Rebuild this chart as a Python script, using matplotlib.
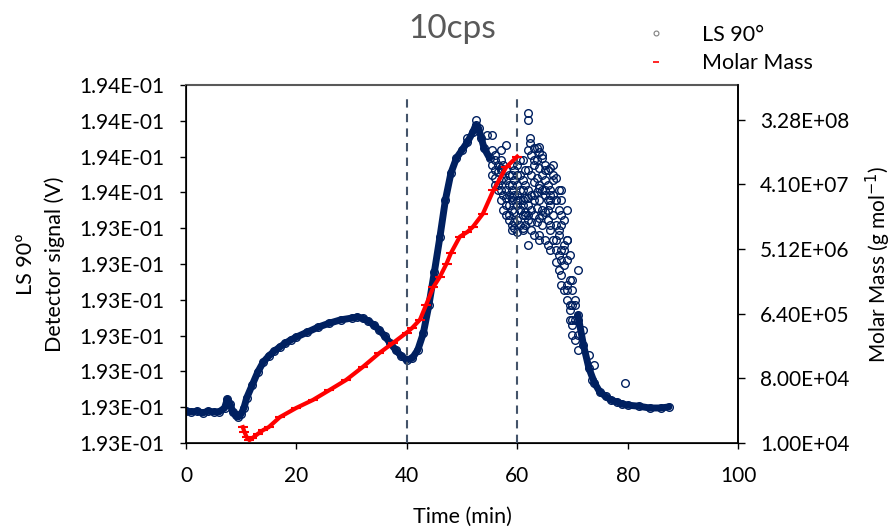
import numpy as np
import matplotlib
matplotlib.use("Agg")
import matplotlib.pyplot as plt
from matplotlib.lines import Line2D
from matplotlib.ticker import FixedLocator, FuncFormatter, NullLocator

plt.rcParams['font.family'] = ['Lato', 'DejaVu Sans']

# LS 90 detector signal, stored as microvolts above 0.19288 V
ls_time = [0, 1, 2, 3, 4, 5, 6, 7, 7.5, 8, 8.5, 9, 9.5, 10, 10.5, 11, 12, 13, 14, 15,
           16, 17, 18, 19, 20, 22, 24, 26, 28, 30, 31, 32, 33, 34, 35, 36, 37, 38, 39, 40,
           41, 42, 43, 44, 45, 46, 47, 48, 49, 50, 51, 52, 52.5, 53, 53.5, 54, 55, 56, 57, 58,
           59, 60, 61, 62, 63, 64, 65, 66, 67, 68, 69, 70, 71, 72, 73, 74, 75, 76, 77, 78,
           79, 80, 82, 84, 86, 87.5]
ls_uv = [89, 87, 89, 84, 89, 87, 87, 98, 123, 109, 87, 78, 73, 81, 98, 126, 162, 198, 226, 243,
         257, 268, 279, 288, 296, 310, 324, 335, 344, 349, 352, 349, 341, 330, 316, 299, 279, 260, 243, 232,
         237, 260, 307, 385, 478, 575, 679, 754, 796, 818, 841, 869, 888, 880, 852, 824, 796, 762, 735, 707,
         687, 679, 665, 684, 693, 712, 707, 693, 679, 637, 567, 455, 358, 274, 209, 168, 142, 131, 120, 115,
         109, 106, 103, 98, 98, 101]

# scattered LS readings around the main peak
scat_time = [52.5, 54.5, 56, 56.5, 57, 58, 58.5, 59, 59.5, 60, 60.5, 62, 62, 62.3, 62.3, 63.5, 64,
             61, 62, 62.5, 63, 64.5, 65, 65.5, 66, 66.5, 67, 67.5, 68, 68.5, 69, 69.5, 70, 70.5,
             71, 69, 68, 66.5, 72, 73, 74, 73.5, 79.5, 61, 63, 64, 57, 58, 59, 60, 61.5, 55.5,
             51, 60.5, 59, 62, 64.5, 66]
scat_uv = [902, 860, 790, 721, 768, 665, 637, 721, 617, 749, 790, 922, 902, 852, 838, 824, 827,
           707, 637, 617, 790, 804, 762, 651, 609, 735, 567, 595, 511, 539, 427, 385, 330, 399,
           483, 651, 707, 776, 316, 246, 218, 176, 168, 595, 581, 567, 818, 832, 776, 693, 637, 860,
           852, 651, 595, 553, 637, 679]

# dense cloud of LS readings between 55 and 71 min
cloud_time = [55.5, 55.5, 55.5, 56, 56, 56, 56.5, 56.5, 56.5, 57, 57, 57, 57,
              57.5, 57.5, 57.5, 57.5, 58, 58, 58, 58, 58.5, 58.5, 58.5, 58.5, 58.5,
              59, 59, 59, 59, 59, 59.5, 59.5, 59.5, 59.5, 59.5, 60, 60, 60, 60, 60,
              60.5, 60.5, 60.5, 60.5, 60.5, 61, 61, 61, 61, 61, 61.5, 61.5, 61.5, 61.5, 61.5,
              62, 62, 62, 62, 62, 62.5, 62.5, 62.5, 62.5, 62.5, 63, 63, 63, 63, 63,
              63.5, 63.5, 63.5, 63.5, 63.5, 64, 64, 64, 64, 64, 64, 64.5, 64.5, 64.5, 64.5, 64.5,
              65, 65, 65, 65, 65, 65.5, 65.5, 65.5, 65.5, 65.5, 66, 66, 66, 66, 66,
              66.5, 66.5, 66.5, 66.5, 67, 67, 67, 67, 67, 67.5, 67.5, 67.5, 67.5, 67.5,
              68, 68, 68, 68, 68, 68.5, 68.5, 68.5, 68.5, 69, 69, 69, 69,
              69.5, 69.5, 69.5, 69.5, 70, 70, 70, 70, 70.5, 70.5, 70.5, 71, 71, 71]
cloud_uv = [818, 776, 749, 804, 740, 721, 776, 707, 757, 762, 707, 679, 790,
            740, 693, 651, 776, 735, 684, 637, 762, 721, 665, 623, 749, 693,
            749, 707, 651, 609, 679, 735, 693, 645, 600, 762, 776, 721, 665, 623, 589,
            749, 707, 651, 609, 679, 790, 735, 679, 637, 600, 762, 721, 684, 645, 609,
            818, 762, 707, 665, 623, 804, 749, 693, 651, 595, 824, 776, 729, 679, 637,
            790, 740, 701, 656, 617, 813, 768, 721, 679, 628, 581, 796, 749, 707, 651, 609,
            776, 735, 693, 645, 567, 762, 721, 679, 623, 553, 768, 707, 665, 595, 539,
            749, 693, 637, 567, 740, 679, 609, 539, 506, 707, 651, 581, 525, 483,
            679, 609, 539, 469, 441, 623, 553, 497, 427, 567, 511, 441, 399,
            525, 455, 371, 344, 427, 385, 344, 302, 385, 344, 288, 344, 302, 260]

# molar mass (g/mol)
mm_time = [10.3, 10.6, 11.0, 11.5, 12, 13, 14, 15, 17, 20, 23, 26, 29, 32, 35, 37.5, 40,
           41, 42.4, 43.5, 44.8, 46, 47.2, 48, 49.6, 51, 52, 53.8, 55.7, 58, 60]
mm_val = [1.67e4, 1.43e4, 1.21e4, 1.10e4, 1.17e4, 1.34e4, 1.52e4, 1.67e4, 2.3e4, 3.1e4, 4.0e4,
          5.5e4, 7.6e4, 1.15e5, 1.8e5, 2.5e5, 3.5e5, 4.07e5, 5.3e5, 8.5e5, 1.5e6, 2.1e6, 3.2e6,
          4.5e6, 7.6e6, 8.9e6, 1.05e7, 1.6e7, 3.4e7, 7.1e7, 1.0e8]

cut_times = [40, 60]
x_ticks = [0, 20, 40, 60, 80, 100]
mm_ticks = [1e4, 8e4, 6.4e5, 5.12e6, 4.096e7, 3.2768e8]

navy = '#002060'
ls_base = 0.19288
t_arr = np.array(ls_time)
ls = ls_base + np.array(ls_uv) * 1e-6
ls_band = np.where((t_arr > 55) & (t_arr < 71), np.nan, ls)
ls_scat = ls_base + np.array(scat_uv) * 1e-6
ls_cloud = ls_base + np.array(cloud_uv) * 1e-6

fig = plt.figure(figsize=(8.94, 5.3), dpi=100)
ax = fig.add_axes([0.208, 0.164, 0.6175, 0.6756])

ax.plot(t_arr, ls_band, color=navy, lw=5, solid_capstyle='round', zorder=2)
mk = dict(ls='none', marker='o', mfc='none', mec=navy, ms=5.5, mew=1.0, zorder=3)
ax.plot(t_arr, ls, **mk)
ax.plot(scat_time, ls_scat, **mk)
ax.plot(cloud_time, ls_cloud, **mk)

for t in cut_times:
    ax.axvline(t, ymax=0.966, color='#44546A', ls=(0, (4, 3)), lw=1.5, zorder=5)

ax.set_xlim(0, 100)
ax.set_ylim(ls_base, ls_base + 0.0010)
ax.set_xticks(x_ticks)
ax.set_yticks(ls_base + np.arange(11) * 0.0001)
ax.yaxis.set_major_formatter(FuncFormatter(lambda v, p: '%.2E' % v))
ax.tick_params(labelsize=15, direction='out', length=4.5, width=1, colors='black')
ax.tick_params(axis='x', pad=12)
ax.tick_params(axis='y', pad=11)
ax.set_xlabel('Time (min)', fontsize=15.5, labelpad=15)
ax.set_ylabel('LS 90º\nDetector signal (V)', fontsize=15.5, labelpad=10, linespacing=1.55)
for s in ['left', 'bottom', 'right']:
    ax.spines[s].set_linewidth(1.2)
ax.spines['top'].set_color('#595959')
ax.spines['top'].set_linewidth(1.5)

ax2 = ax.twinx()
ax2.plot(mm_time, mm_val, color='red', lw=3, marker='_', ms=7, mew=1.5, zorder=4)
ax2.set_yscale('log')
ax2.set_ylim(1e4, 1e9)
ax2.yaxis.set_major_locator(FixedLocator(mm_ticks))
ax2.yaxis.set_minor_locator(NullLocator())
ax2.yaxis.set_major_formatter(FuncFormatter(lambda v, p: '%.2E' % v))
ax2.tick_params(labelsize=15, direction='out', length=5, width=1, pad=11)
ax2.set_ylabel('Molar Mass (g mol$^{-1}$)', fontsize=15, labelpad=10)
ax2.spines['right'].set_linewidth(1.2)
ax2.spines['top'].set_visible(False)

fig.text(0.506, 0.945, '10cps', fontsize=24, color='#595959', ha='center', va='center')

handles = [Line2D([], [], ls='none', marker='o', mfc='none', mec='#7F7F7F', ms=3.5, mew=0.8),
           Line2D([], [], ls='none', marker='_', mec='red', ms=5, mew=1.2)]
fig.legend(handles, ['LS 90°', 'Molar Mass'], loc='upper left', bbox_to_anchor=(0.694, 0.99),
           frameon=False, fontsize=15.5, handlelength=1.5, handletextpad=1.4, labelspacing=0.4)

fig.savefig('out.png', dpi=100)
